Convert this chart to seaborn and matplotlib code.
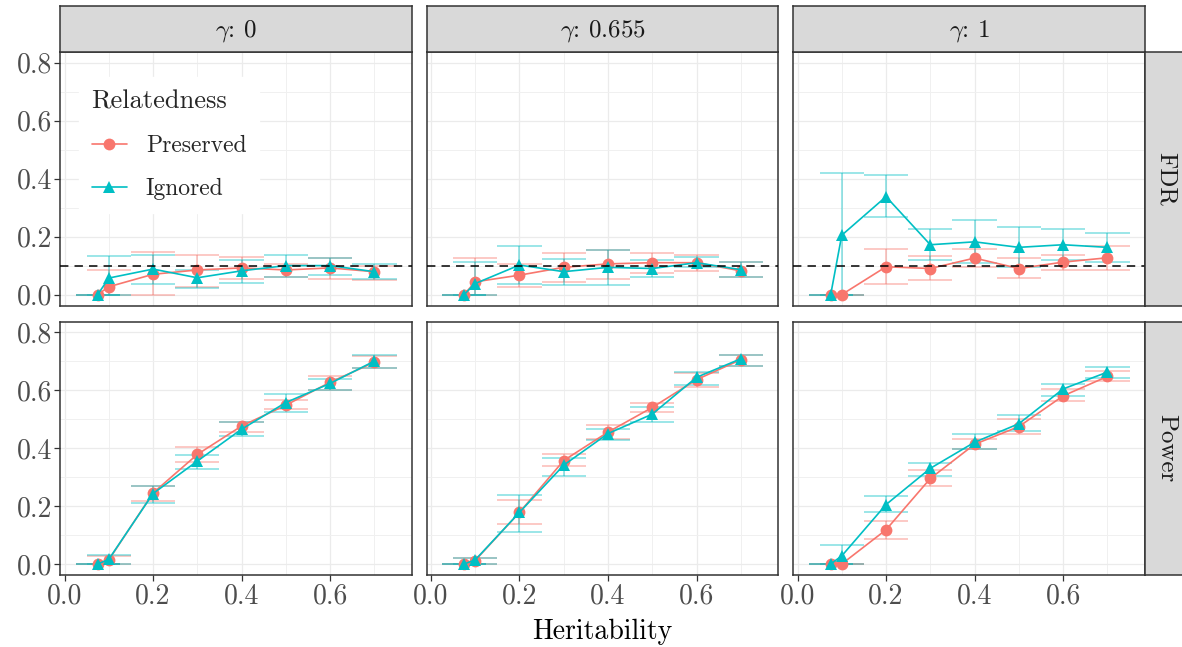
import numpy as np
import pandas as pd
import matplotlib
matplotlib.use("Agg")
import matplotlib.pyplot as plt
import seaborn as sns
from matplotlib.ticker import FixedLocator, FormatStrFormatter

# ---------------- data ----------------
heritability = [0.075, 0.1, 0.2, 0.3, 0.4, 0.5, 0.6, 0.7]
gamma_labels = ["0", "0.655", "1"]
metric_labels = ["FDR", "Power"]
relatedness_levels = ["Preserved", "Ignored"]
fdr_target = 0.1

# FDR, gamma = 0
fdr_g0_pres = [0.0, 0.027, 0.070, 0.085, 0.092, 0.085, 0.092, 0.079]
fdr_g0_pres_lo = [0.0, 0.0, 0.0, 0.025, 0.053, 0.060, 0.055, 0.050]
fdr_g0_pres_hi = [0.0, 0.086, 0.147, 0.138, 0.130, 0.106, 0.125, 0.100]
fdr_g0_ign = [0.0, 0.057, 0.088, 0.058, 0.082, 0.100, 0.100, 0.079]
fdr_g0_ign_lo = [0.0, 0.0, 0.038, 0.024, 0.041, 0.062, 0.067, 0.053]
fdr_g0_ign_hi = [0.0, 0.133, 0.138, 0.085, 0.118, 0.135, 0.126, 0.106]
# FDR, gamma = 0.655
fdr_g1_pres = [0.0, 0.044, 0.067, 0.094, 0.106, 0.110, 0.110, 0.082]
fdr_g1_pres_lo = [0.0, 0.0, 0.026, 0.044, 0.055, 0.074, 0.082, 0.061]
fdr_g1_pres_hi = [0.0, 0.126, 0.106, 0.145, 0.153, 0.144, 0.138, 0.112]
fdr_g1_ign = [0.0, 0.038, 0.102, 0.079, 0.094, 0.090, 0.110, 0.086]
fdr_g1_ign_lo = [0.0, 0.0, 0.035, 0.032, 0.032, 0.059, 0.094, 0.061]
fdr_g1_ign_hi = [0.0, 0.112, 0.167, 0.124, 0.153, 0.118, 0.129, 0.112]
# FDR, gamma = 1
fdr_g2_pres = [0.0, 0.0, 0.096, 0.090, 0.126, 0.090, 0.112, 0.127]
fdr_g2_pres_lo = [0.0, 0.0, 0.035, 0.049, 0.094, 0.056, 0.086, 0.086]
fdr_g2_pres_hi = [0.0, 0.0, 0.159, 0.133, 0.159, 0.126, 0.138, 0.167]
fdr_g2_ign = [0.0, 0.205, 0.338, 0.172, 0.182, 0.163, 0.172, 0.163]
fdr_g2_ign_lo = [0.0, 0.0, 0.267, 0.121, 0.108, 0.094, 0.118, 0.114]
fdr_g2_ign_hi = [0.0, 0.420, 0.414, 0.226, 0.259, 0.232, 0.227, 0.212]

# Power, gamma = 0
pow_g0_pres = [0.0, 0.014, 0.245, 0.378, 0.476, 0.548, 0.627, 0.696]
pow_g0_pres_lo = [0.0, 0.0, 0.216, 0.351, 0.455, 0.534, 0.600, 0.675]
pow_g0_pres_hi = [0.0, 0.028, 0.268, 0.403, 0.490, 0.565, 0.647, 0.717]
pow_g0_ign = [0.0, 0.016, 0.243, 0.355, 0.465, 0.557, 0.623, 0.700]
pow_g0_ign_lo = [0.0, 0.0, 0.210, 0.328, 0.440, 0.525, 0.600, 0.675]
pow_g0_ign_hi = [0.0, 0.031, 0.270, 0.376, 0.490, 0.586, 0.640, 0.720]
# Power, gamma = 0.655
pow_g1_pres = [0.0, 0.012, 0.178, 0.357, 0.455, 0.540, 0.636, 0.705]
pow_g1_pres_lo = [0.0, 0.0, 0.139, 0.338, 0.432, 0.525, 0.610, 0.684]
pow_g1_pres_hi = [0.0, 0.022, 0.220, 0.378, 0.479, 0.557, 0.660, 0.720]
pow_g1_ign = [0.0, 0.014, 0.178, 0.341, 0.450, 0.517, 0.644, 0.708]
pow_g1_ign_lo = [0.0, 0.0, 0.110, 0.305, 0.428, 0.490, 0.618, 0.684]
pow_g1_ign_hi = [0.0, 0.022, 0.237, 0.366, 0.465, 0.543, 0.661, 0.720]
# Power, gamma = 1
pow_g2_pres = [0.0, 0.0, 0.118, 0.295, 0.413, 0.474, 0.580, 0.647]
pow_g2_pres_lo = [0.0, 0.0, 0.086, 0.270, 0.398, 0.447, 0.563, 0.632]
pow_g2_pres_hi = [0.0, 0.0, 0.149, 0.324, 0.432, 0.500, 0.603, 0.667]
pow_g2_ign = [0.0, 0.028, 0.205, 0.330, 0.420, 0.484, 0.604, 0.662]
pow_g2_ign_lo = [0.0, 0.0, 0.178, 0.305, 0.398, 0.459, 0.580, 0.642]
pow_g2_ign_hi = [0.0, 0.064, 0.234, 0.347, 0.447, 0.513, 0.620, 0.679]

y_ticks = [0.0, 0.2, 0.4, 0.6, 0.8]
x_ticks = [0.0, 0.2, 0.4, 0.6]

# ---------------- assemble long table ----------------
series = {
    ("FDR", "0"): [(fdr_g0_pres, fdr_g0_pres_lo, fdr_g0_pres_hi), (fdr_g0_ign, fdr_g0_ign_lo, fdr_g0_ign_hi)],
    ("FDR", "0.655"): [(fdr_g1_pres, fdr_g1_pres_lo, fdr_g1_pres_hi), (fdr_g1_ign, fdr_g1_ign_lo, fdr_g1_ign_hi)],
    ("FDR", "1"): [(fdr_g2_pres, fdr_g2_pres_lo, fdr_g2_pres_hi), (fdr_g2_ign, fdr_g2_ign_lo, fdr_g2_ign_hi)],
    ("Power", "0"): [(pow_g0_pres, pow_g0_pres_lo, pow_g0_pres_hi), (pow_g0_ign, pow_g0_ign_lo, pow_g0_ign_hi)],
    ("Power", "0.655"): [(pow_g1_pres, pow_g1_pres_lo, pow_g1_pres_hi), (pow_g1_ign, pow_g1_ign_lo, pow_g1_ign_hi)],
    ("Power", "1"): [(pow_g2_pres, pow_g2_pres_lo, pow_g2_pres_hi), (pow_g2_ign, pow_g2_ign_lo, pow_g2_ign_hi)],
}
rows = []
for (metric, gam), groups in series.items():
    for rel, (m, lo, hi) in zip(relatedness_levels, groups):
        for h, v, l, u in zip(heritability, m, lo, hi):
            rows.append(dict(metric=metric, gamma=gam, Relatedness=rel, h=h, value=v, lo=l, hi=u))
df = pd.DataFrame(rows)

# ---------------- style ----------------
sns.set_theme(style="white")
plt.rcParams["font.family"] = ["cmr10", "DejaVu Serif"]
plt.rcParams["mathtext.fontset"] = "cm"
plt.rcParams["axes.formatter.use_mathtext"] = True
plt.rcParams["axes.unicode_minus"] = False

palette = {"Preserved": "#F8766D", "Ignored": "#00BFC4"}
markers = {"Preserved": "o", "Ignored": "^"}
border = "#333333"
grid_c = "#EBEBEB"
tick_txt = "#4D4D4D"

W, H = 1182, 647
fig = plt.figure(figsize=(W / 100, H / 100), dpi=100)
col_left = [60.3, 426.7, 793.3]
row_top = [52.3, 321.7]
pw, ph = 351.7, 253.3
strip_h = 46.3
cap_half = 0.05

axes = {}
for r, metric in enumerate(metric_labels):
    for c, gam in enumerate(gamma_labels):
        l, t = col_left[c], row_top[r]
        ax = fig.add_axes([l / W, 1 - (t + ph) / H, pw / W, ph / H])
        axes[(metric, gam)] = ax
        sub = df[(df.metric == metric) & (df.gamma == gam)]
        ax.set_xlim(-0.0095, 0.785)
        ax.set_ylim(-0.038, 0.836)
        # grid
        ax.xaxis.set_major_locator(FixedLocator(x_ticks))
        ax.yaxis.set_major_locator(FixedLocator(y_ticks))
        ax.xaxis.set_minor_locator(FixedLocator([0.1, 0.3, 0.5, 0.7]))
        ax.yaxis.set_minor_locator(FixedLocator([0.1, 0.3, 0.5, 0.7]))
        ax.grid(True, which="major", color=grid_c, lw=0.9, zorder=0)
        ax.grid(True, which="minor", color="#F0F0F0", lw=0.7, zorder=0)
        ax.set_axisbelow(True)
        # error bars
        for rel in relatedness_levels:
            g = sub[sub.Relatedness == rel]
            col = palette[rel]
            ax.vlines(g.h, g.lo, g.hi, color=col, alpha=0.5, lw=1.1, zorder=2)
            ax.hlines(g.lo, g.h - cap_half, g.h + cap_half, color=col, alpha=0.5, lw=1.1, zorder=2)
            ax.hlines(g.hi, g.h - cap_half, g.h + cap_half, color=col, alpha=0.5, lw=1.1, zorder=2)
        sns.lineplot(data=sub, x="h", y="value", hue="Relatedness", style="Relatedness",
                     hue_order=relatedness_levels, style_order=relatedness_levels,
                     palette=palette, markers=markers, dashes=False, markersize=8.5,
                     markeredgewidth=0, lw=1.2, ax=ax, legend=(r == 0 and c == 0), zorder=3)
        if metric == "FDR":
            ax.axhline(fdr_target, color="black", lw=1.1, ls=(0, (5.5, 4)), zorder=4)
        ax.set_xlabel("")
        ax.set_ylabel("")
        for s in ax.spines.values():
            s.set_color(border)
            s.set_linewidth(1.1)
        ax.tick_params(which="major", direction="out", length=4, width=0.9, color=border,
                       labelsize=20, labelcolor=tick_txt, pad=2, bottom=(r == 1), left=(c == 0),
                       labelbottom=(r == 1), labelleft=(c == 0))
        ax.tick_params(which="minor", length=0)
        ax.xaxis.set_major_formatter(FormatStrFormatter("%.1f"))
        ax.yaxis.set_major_formatter(FormatStrFormatter("%.1f"))

# legend in first panel
ax0 = axes[("FDR", "0")]
handles, labels = ax0.get_legend_handles_labels()
leg = ax0.legend(handles, labels, title="Relatedness", loc="upper left",
                 bbox_to_anchor=(0.052, 0.903), borderaxespad=0, frameon=True,
                 fancybox=False, framealpha=1, facecolor="white", edgecolor="white",
                 fontsize=17, title_fontsize=19, handlelength=1.5, handletextpad=0.8,
                 labelspacing=0.9, borderpad=0.55, alignment="left")
leg.set_zorder(10)

# strips
for c, gam in enumerate(gamma_labels):
    sax = fig.add_axes([col_left[c] / W, 1 - row_top[0] / H, pw / W, strip_h / H])
    sax.set_facecolor("#D9D9D9")
    sax.set_xticks([]); sax.set_yticks([])
    for s in sax.spines.values():
        s.set_color(border); s.set_linewidth(1.1)
    sax.text(0.5, 0.47, r"$\gamma$: " + gam, ha="center", va="center", fontsize=18,
             color="#1A1A1A", transform=sax.transAxes)
for r, metric in enumerate(metric_labels):
    sax = fig.add_axes([(col_left[2] + pw) / W, 1 - (row_top[r] + ph) / H, strip_h / W, ph / H])
    sax.set_facecolor("#D9D9D9")
    sax.set_xticks([]); sax.set_yticks([])
    for s in sax.spines.values():
        s.set_color(border); s.set_linewidth(1.1)
    sax.text(0.45, 0.5, metric, ha="center", va="center", fontsize=18, rotation=-90,
             color="#1A1A1A", transform=sax.transAxes)

fig.text((col_left[0] + col_left[2] + pw) / 2 / W, 1 - 632 / H, "Heritability",
         ha="center", va="center", fontsize=20, color="black")

fig.savefig("out.png", dpi=100)
